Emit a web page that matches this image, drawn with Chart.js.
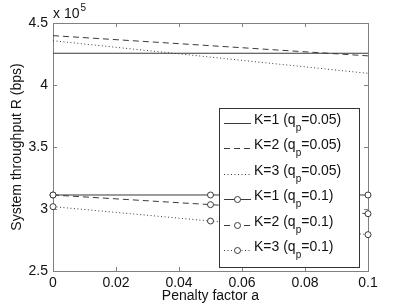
<!DOCTYPE html>
<html>
<head>
<meta charset="utf-8">
<script src="https://cdn.jsdelivr.net/npm/chart.js@4/dist/chart.umd.min.js"></script>
<style>
  html, body { margin: 0; padding: 0; background: #fff; }
  #wrap { width: 407px; height: 306px; }
</style>
</head>
<body>
<div id="wrap"><canvas id="throughputChart" width="407" height="306"></canvas></div>
<script>
// Penalty factor a (x axis)
const penaltyFactor = [0, 0.05, 0.1];

// System throughput R in bps
const k1q005 = [425600, 425600, 425600];
const k2q005 = [439800, 431700, 423500];
const k3q005 = [435700, 422500, 409400];
const k1q01 = [311300, 311300, 311300];
const k2q01 = [311300, 303500, 296200];
const k3q01 = [301900, 290300, 279300];

const seriesLabels = [
    "K=1 (q_p=0.05)", "K=2 (q_p=0.05)", "K=3 (q_p=0.05)",
    "K=1 (q_p=0.1)", "K=2 (q_p=0.1)", "K=3 (q_p=0.1)"
];

const xTicks = [0, 0.02, 0.04, 0.06, 0.08, 0.1];
const yTicks = [250000, 300000, 350000, 400000, 450000];

const fontFamily = '"Liberation Sans", Arial, Helvetica, sans-serif';
const lineColor = '#3a3a3a';
const axisColor = '#808080';
const textColor = '#111';

const dashStyles = [[], [6, 4], [1, 2.5], [], [6, 4], [1, 2.5]];
const hasMarkers = [false, false, false, true, true, true];
const seriesValues = [k1q005, k2q005, k3q005, k1q01, k2q01, k3q01];

const toPoints = (values) => values.map((v, i) => ({ x: penaltyFactor[i], y: v }));

const datasets = seriesValues.map((values, i) => ({
    label: seriesLabels[i],
    data: toPoints(values),
    borderColor: lineColor,
    borderWidth: 1,
    borderDash: dashStyles[i],
    pointRadius: hasMarkers[i] ? 3 : 0,
    pointStyle: 'circle',
    pointBorderColor: lineColor,
    pointBackgroundColor: '#fff',
    pointBorderWidth: 1,
    tension: 0,
    fill: false,
    clip: false
}));

// Box, inward ticks on all four sides, and the "x 10^5" exponent
const matlabAxes = {
    id: 'matlabAxes',
    beforeDatasetsDraw(chart) {
        const { ctx, chartArea: a, scales } = chart;
        const len = 4;
        ctx.save();
        ctx.strokeStyle = axisColor;
        ctx.lineWidth = 1;
        ctx.beginPath();
        xTicks.forEach(v => {
            const px = Math.round(scales.x.getPixelForValue(v)) + 0.5;
            ctx.moveTo(px, a.bottom); ctx.lineTo(px, a.bottom - len);
            ctx.moveTo(px, a.top); ctx.lineTo(px, a.top + len);
        });
        yTicks.forEach(v => {
            const py = Math.round(scales.y.getPixelForValue(v)) + 0.5;
            ctx.moveTo(a.left, py); ctx.lineTo(a.left + len, py);
            ctx.moveTo(a.right, py); ctx.lineTo(a.right - len, py);
        });
        ctx.stroke();
        ctx.strokeRect(Math.round(a.left) + 0.5, Math.round(a.top) + 0.5,
            Math.round(a.right - a.left), Math.round(a.bottom - a.top));

        ctx.fillStyle = textColor;
        ctx.textBaseline = 'alphabetic';
        ctx.textAlign = 'left';
        ctx.font = '14px ' + fontFamily;
        ctx.fillText('x 10', a.left, 18);
        const w = ctx.measureText('x 10').width;
        ctx.font = '10px ' + fontFamily;
        ctx.fillText('5', a.left + w + 1, 11);
        ctx.restore();
    }
};

// Legend box with subscripted q_p, drawn over the data like MATLAB
const matlabLegend = {
    id: 'matlabLegend',
    afterDatasetsDraw(chart) {
        const { ctx } = chart;
        const box = { left: 219, top: 108, right: 359, bottom: 267 };
        ctx.save();
        ctx.fillStyle = '#fff';
        ctx.fillRect(box.left, box.top, box.right - box.left, box.bottom - box.top);
        ctx.strokeStyle = '#333';
        ctx.lineWidth = 1;
        ctx.strokeRect(box.left + 0.5, box.top + 0.5, box.right - box.left, box.bottom - box.top);

        chart.data.datasets.forEach((ds, i) => {
            const y = 123 + i * 25.4;
            const yl = Math.round(y) + 0.5;
            ctx.strokeStyle = ds.borderColor;
            ctx.setLineDash(ds.borderDash);
            ctx.beginPath();
            ctx.moveTo(224, yl);
            ctx.lineTo(251, yl);
            ctx.stroke();
            ctx.setLineDash([]);
            if (ds.pointRadius > 0) {
                ctx.beginPath();
                ctx.arc(237.5, yl, 3, 0, Math.PI * 2);
                ctx.fillStyle = '#fff';
                ctx.fill();
                ctx.stroke();
            }
            const [head, tail] = ds.label.split('_p');
            ctx.fillStyle = textColor;
            ctx.textAlign = 'left';
            ctx.textBaseline = 'alphabetic';
            let x = 254;
            ctx.font = '14px ' + fontFamily;
            ctx.fillText(head, x, y + 1);
            x += ctx.measureText(head).width;
            ctx.font = '10px ' + fontFamily;
            ctx.fillText('p', x, y + 8);
            x += ctx.measureText('p').width;
            ctx.font = '14px ' + fontFamily;
            ctx.fillText(tail, x, y + 1);
        });
        ctx.restore();
    }
};

const formatX = (v) => String(parseFloat(Number(v).toFixed(2)));
const formatY = (v) => String(parseFloat((v / 100000).toFixed(1)));

new Chart(document.getElementById('throughputChart').getContext('2d'), {
    type: 'line',
    data: { datasets: datasets },
    options: {
        responsive: false,
        animation: false,
        layout: { padding: { top: 23, right: 39, left: 0, bottom: 0 } },
        plugins: {
            legend: { display: false },
            tooltip: { enabled: false }
        },
        scales: {
            x: {
                type: 'linear',
                min: 0,
                max: 0.1,
                afterBuildTicks: (scale) => { scale.ticks = xTicks.map(v => ({ value: v })); },
                afterFit: (scale) => { scale.height = 35; },
                grid: { display: false, drawTicks: false },
                border: { display: false },
                ticks: {
                    autoSkip: false,
                    maxRotation: 0,
                    padding: 4,
                    color: textColor,
                    font: { family: fontFamily, size: 14 },
                    callback: formatX
                },
                title: {
                    display: true,
                    text: 'Penalty factor a',
                    color: textColor,
                    font: { family: fontFamily, size: 14 },
                    padding: { top: 0, bottom: 1 }
                }
            },
            y: {
                type: 'linear',
                min: 250000,
                max: 450000,
                afterBuildTicks: (scale) => { scale.ticks = yTicks.map(v => ({ value: v })); },
                afterFit: (scale) => { scale.width = 53; },
                grid: { display: false, drawTicks: false },
                border: { display: false },
                ticks: {
                    autoSkip: false,
                    padding: 5,
                    color: textColor,
                    font: { family: fontFamily, size: 14 },
                    callback: formatY
                },
                title: {
                    display: true,
                    text: 'System throughput R (bps)',
                    color: textColor,
                    font: { family: fontFamily, size: 14 },
                    padding: { top: 9, bottom: 0 }
                }
            }
        }
    },
    plugins: [matlabAxes, matlabLegend]
});
</script>
</body>
</html>
